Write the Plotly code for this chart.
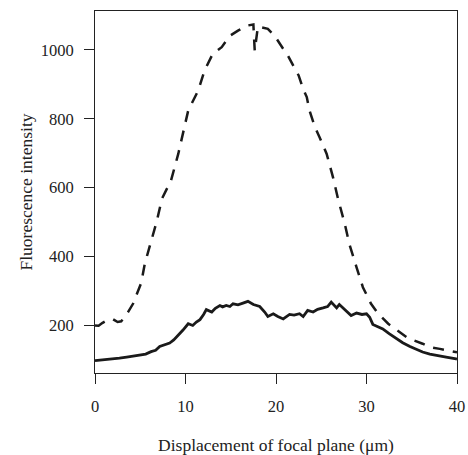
import plotly.graph_objects as go

# Solid curve (lower)
solid_x = [0, 1, 2, 2.7, 3.5, 4.3, 5.1, 5.6, 6.2, 6.7, 7.15, 7.7, 8.25, 8.7, 9.2, 9.7,
           10.3, 10.8, 11.2, 11.6, 12.0, 12.3, 12.9, 13.3, 13.8, 14.1, 14.5, 14.9, 15.25,
           15.8, 16.35, 16.9, 17.5, 18.2, 18.75, 19.1, 19.7, 20.2, 20.8, 21.5, 22.0, 22.6,
           23.0, 23.5, 24.1, 24.6, 25.2, 25.7, 26.1, 26.7, 27.0, 27.6, 28.3, 28.9, 29.5,
           30.0, 30.35, 30.7, 31.2, 31.8, 32.5, 33.3, 34.0, 34.8, 35.5, 36.2, 37.0, 37.7,
           38.8, 39.9, 40]
solid_y = [98, 100, 103, 105, 108, 112, 116, 117, 124, 128, 139, 143, 149, 158, 171, 186,
           205, 200, 210, 217, 232, 246, 239, 250, 258, 254, 258, 255, 263,
           260, 265, 270, 261, 255, 239, 226, 234, 226, 219, 232, 230, 234,
           226, 244, 239, 247, 251, 255, 268, 251, 261, 246, 229, 236, 232,
           234, 224, 203, 198, 190, 176, 161, 150, 139, 130, 123, 117, 113,
           108, 103, 102]

# Dashed curve (upper)
dash_x = [0, 0.4, 0.8, 1.4, 2.0, 2.5, 2.9, 3.3, 3.65, 4.2, 4.75, 5.1, 5.5, 6.2, 6.8, 7.4,
          8.4, 9.2, 9.7, 10.3, 11.4, 12.1, 13.0, 14.0, 14.9, 15.8, 16.9, 17.5, 17.65, 18.0,
          19.1, 19.85, 20.8, 21.3, 22.1, 22.5, 23.0, 23.4, 23.7, 24.3, 24.8, 25.6, 26.3,
          26.85, 27.6, 28.1, 28.9, 29.6, 30.5, 31.3, 32.4, 33.4, 34.6, 36.2, 37.0, 38.1,
          39.9, 40]
dash_y = [200, 199, 207, 216, 218, 210, 212, 225, 239, 263, 297, 323, 379, 447, 500, 568,
          621, 698, 756, 824, 882, 940, 988, 1008, 1041, 1056, 1071, 1074, 998, 1068,
          1061, 1041, 1003, 984, 945, 926, 887, 863, 824, 776, 747, 698, 630,
          568, 495, 437, 369, 311, 263, 234, 205, 185, 163, 147, 137, 132,
          123, 122]

x_ticks = [0, 10, 20, 30, 40]
y_ticks = [200, 400, 600, 800, 1000]

fig = go.Figure()
fig.add_trace(go.Scatter(x=dash_x, y=dash_y, mode="lines",
                         line=dict(color="#1a1a1a", width=2.5, dash="11px,9px"),
                         showlegend=False))
fig.add_trace(go.Scatter(x=solid_x, y=solid_y, mode="lines",
                         line=dict(color="#1a1a1a", width=2.8),
                         showlegend=False))

tick_font = dict(family="Liberation Serif, Times New Roman, serif", size=16.5, color="#222")
title_font = dict(family="Liberation Serif, Times New Roman, serif", size=17.5, color="#222")

fig.update_layout(
    width=468, height=455,
    margin=dict(l=95, r=11, t=11, b=82),
    paper_bgcolor="white", plot_bgcolor="white",
    font=tick_font,
    xaxis=dict(range=[0, 40], tickvals=x_ticks, ticks="outside", ticklen=10,
               tickcolor="#222", tickwidth=1, showline=True, linecolor="#222",
               linewidth=1, mirror=True, showgrid=False, zeroline=False,
               automargin=False, ticklabelstandoff=8, tickfont=tick_font,
               title=dict(text="Displacement of focal plane (μm)", standoff=33,
                          font=title_font)),
    yaxis=dict(range=[62, 1113], tickvals=y_ticks, ticks="outside", ticklen=10,
               tickcolor="#222", tickwidth=1, showline=True, linecolor="#222",
               linewidth=1, mirror=True, showgrid=False, zeroline=False,
               automargin=False, ticklabelstandoff=7, tickfont=tick_font,
               title=dict(text="Fluorescence intensity", standoff=3, font=title_font)),
)

fig.write_html("out.html",
               config={"displayModeBar": False},
               post_script="document.body.style.margin='0';document.body.style.padding='0';")
